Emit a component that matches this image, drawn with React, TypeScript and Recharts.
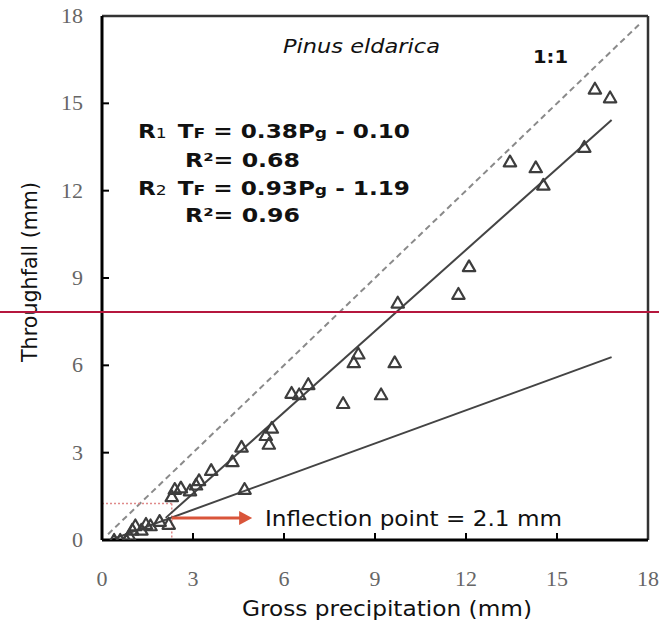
import React from 'react';
import { ScatterChart, Scatter, XAxis, YAxis, ReferenceLine, ReferenceDot } from 'recharts';

// Observed throughfall (mm) vs gross precipitation (mm)
const grossPrecip = [
  0.4, 0.6, 0.8, 0.9, 1.0, 1.1, 1.3, 1.45, 1.6, 1.9, 2.2,
  2.3, 2.4, 2.6, 2.9, 3.1, 3.2, 3.6, 4.3, 4.6, 4.7,
  5.4, 5.5, 5.6, 6.25, 6.5, 6.8, 7.95, 8.3, 8.45, 9.2, 9.65, 9.75,
  11.75, 12.1, 13.45, 14.3, 14.55, 15.9, 16.25, 16.75,
];
const throughfall = [
  0, 0, 0, 0.15, 0.35, 0.5, 0.35, 0.55, 0.5, 0.65, 0.55,
  1.5, 1.75, 1.8, 1.7, 1.9, 2.05, 2.4, 2.7, 3.2, 1.75,
  3.6, 3.3, 3.85, 5.05, 5.0, 5.35, 4.7, 6.1, 6.4, 5.0, 6.1, 8.15,
  8.45, 9.4, 13.0, 12.8, 12.2, 13.5, 15.5, 15.2,
];

const xTicks = [0, 3, 6, 9, 12, 15, 18];
const yTicks = [0, 3, 6, 9, 12, 15, 18];

// line end points
const oneToOne = [{ x: 0.2, y: 0.2 }, { x: 17.7, y: 17.7 }];
const r1Line = [{ x: 0.3, y: 0.014 }, { x: 16.8, y: 6.28 }];
const r2Line = [{ x: 2.1, y: 0.76 }, { x: 16.8, y: 14.43 }];
const inflectionGuideH = [{ x: 0, y: 1.25 }, { x: 2.3, y: 1.25 }];
const inflectionGuideV = [{ x: 2.3, y: 1.25 }, { x: 2.3, y: 0 }];
const arrowLine = [{ x: 2.3, y: 0.76 }, { x: 4.6, y: 0.76 }];
const arrowTip = { x: 4.95, y: 0.76 };

const points = grossPrecip.map((x, i) => ({ x, y: throughfall[i] }));

const SANS = '"DejaVu Sans", Verdana, sans-serif';
const SERIF = '"Liberation Serif", "Times New Roman", serif';

const Triangle = (props: any) => {
  const { cx, cy } = props;
  if (cx == null || cy == null) return null;
  return (
    <polygon
      points={`${cx},${cy - 6} ${cx - 6.2},${cy + 4.8} ${cx + 6.2},${cy + 4.8}`}
      fill="none"
      stroke="#3d3d3d"
      strokeWidth={2.2}
      strokeLinejoin="round"
    />
  );
};

const YTick = (props: any) => {
  const { x, y, payload } = props;
  const v = payload.value;
  return (
    <g>
      {v !== 0 && v !== 18 && (
        <line x1={x} x2={x + 7} y1={y} y2={y} stroke="#000" strokeWidth={2} />
      )}
      <text x={x - 19} y={y + 7} textAnchor="end" fontFamily={SERIF} fontSize={22} fill="#666">
        {v}
      </text>
    </g>
  );
};

const XTick = (props: any) => {
  const { x, y, payload } = props;
  const v = payload.value;
  return (
    <g>
      {v !== 0 && v !== 18 && (
        <line x1={x} x2={x} y1={y} y2={y - 7} stroke="#000" strokeWidth={2} />
      )}
      <text x={x} y={y + 46} textAnchor="middle" fontFamily={SERIF} fontSize={22} fill="#666">
        {v}
      </text>
    </g>
  );
};

const ArrowHead = (props: any) => {
  const { cx, cy } = props;
  if (cx == null || cy == null) return null;
  return <polygon points={`${cx},${cy} ${cx - 13},${cy - 7} ${cx - 13},${cy + 7}`} fill="#d9553a" />;
};

export default function App() {
  const eqStyle = { fontFamily: SANS, fontWeight: 700, fontSize: 19, fill: '#111' } as any;
  const sub = 14;
  return (
    <div style={{ position: 'absolute', left: 0, top: 0, width: 659, height: 625, background: '#fff' }}>
      <ScatterChart width={659} height={625} margin={{ top: 16, right: 11, bottom: 0, left: 0 }}>
        <XAxis
          type="number"
          dataKey="x"
          domain={[0, 18]}
          ticks={xTicks}
          interval={0}
          allowDataOverflow
          tickSize={0}
          tickMargin={0}
          tickLine={false}
          height={85}
          axisLine={{ stroke: '#000', strokeWidth: 3 }}
          tick={<XTick />}
        />
        <YAxis
          type="number"
          dataKey="y"
          domain={[0, 18]}
          ticks={yTicks}
          interval={0}
          allowDataOverflow
          tickSize={0}
          tickMargin={0}
          tickLine={false}
          width={102}
          axisLine={{ stroke: '#000', strokeWidth: 3 }}
          tick={<YTick />}
        />
        <ReferenceLine y={18} stroke="#333" strokeWidth={2.5} ifOverflow="visible" />
        <ReferenceLine x={18} stroke="#333" strokeWidth={2.5} ifOverflow="visible" />
        <ReferenceLine segment={oneToOne} stroke="#8a8a8a" strokeWidth={2} strokeDasharray="6 4" ifOverflow="visible" />
        <ReferenceLine segment={inflectionGuideH} stroke="#e08a8a" strokeWidth={1.5} strokeDasharray="2 2" ifOverflow="visible" />
        <ReferenceLine segment={inflectionGuideV} stroke="#e08a8a" strokeWidth={1.5} strokeDasharray="2 2" ifOverflow="visible" />
        <ReferenceLine segment={r1Line} stroke="#444" strokeWidth={2} ifOverflow="visible" />
        <ReferenceLine segment={r2Line} stroke="#444" strokeWidth={2} ifOverflow="visible" />
        <ReferenceLine segment={arrowLine} stroke="#d9553a" strokeWidth={3} ifOverflow="visible" />
        <ReferenceDot x={arrowTip.x} y={arrowTip.y} shape={<ArrowHead />} ifOverflow="visible" />
        <Scatter data={points} shape={<Triangle />} isAnimationActive={false} />
      </ScatterChart>
      <svg
        width={659}
        height={625}
        style={{ position: 'absolute', left: 0, top: 0, pointerEvents: 'none' }}
      >
        <text x={283} y={53} fontFamily={SANS} fontStyle="italic" fontSize={19} fill="#111"
          textLength={157} lengthAdjust="spacingAndGlyphs">
          Pinus eldarica
        </text>
        <text x={533} y={63} fontFamily={SANS} fontWeight={700} fontSize={17} fill="#111"
          textLength={35} lengthAdjust="spacingAndGlyphs">
          1:1
        </text>
        <text x={138} y={138} style={eqStyle} textLength={272} lengthAdjust="spacingAndGlyphs">
          R<tspan fontSize={sub} fontWeight={400}>1</tspan>
          <tspan dx={9}>T</tspan>
          <tspan fontSize={sub}>F</tspan>
          <tspan> = 0.38P</tspan>
          <tspan fontSize={sub}>g</tspan>
          <tspan> - 0.10</tspan>
        </text>
        <text x={185} y={167} style={eqStyle} textLength={115} lengthAdjust="spacingAndGlyphs">
          R²= 0.68
        </text>
        <text x={138} y={195} style={eqStyle} textLength={272} lengthAdjust="spacingAndGlyphs">
          R<tspan fontSize={sub} fontWeight={400}>2</tspan>
          <tspan dx={9}>T</tspan>
          <tspan fontSize={sub}>F</tspan>
          <tspan> = 0.93P</tspan>
          <tspan fontSize={sub}>g</tspan>
          <tspan> - 1.19</tspan>
        </text>
        <text x={185} y={222} style={eqStyle} textLength={115} lengthAdjust="spacingAndGlyphs">
          R²= 0.96
        </text>
        <text x={265} y={526} fontFamily={SANS} fontSize={22} fill="#111"
          textLength={297} lengthAdjust="spacingAndGlyphs">
          Inflection point = 2.1 mm
        </text>
        <text
          x={37}
          y={272}
          transform="rotate(-90 37 272)"
          textAnchor="middle"
          fontFamily={SANS}
          fontSize={21}
          fill="#111"
          textLength={180}
          lengthAdjust="spacingAndGlyphs"
        >
          Throughfall (mm)
        </text>
        <text x={242} y={616} fontFamily={SANS} fontSize={21} fill="#111"
          textLength={290} lengthAdjust="spacingAndGlyphs">
          Gross precipitation (mm)
        </text>
      </svg>
      <div
        style={{
          position: 'absolute',
          left: 0,
          top: 311,
          width: 659,
          height: 2,
          background: '#b5173d',
        }}
      />
    </div>
  );
}
